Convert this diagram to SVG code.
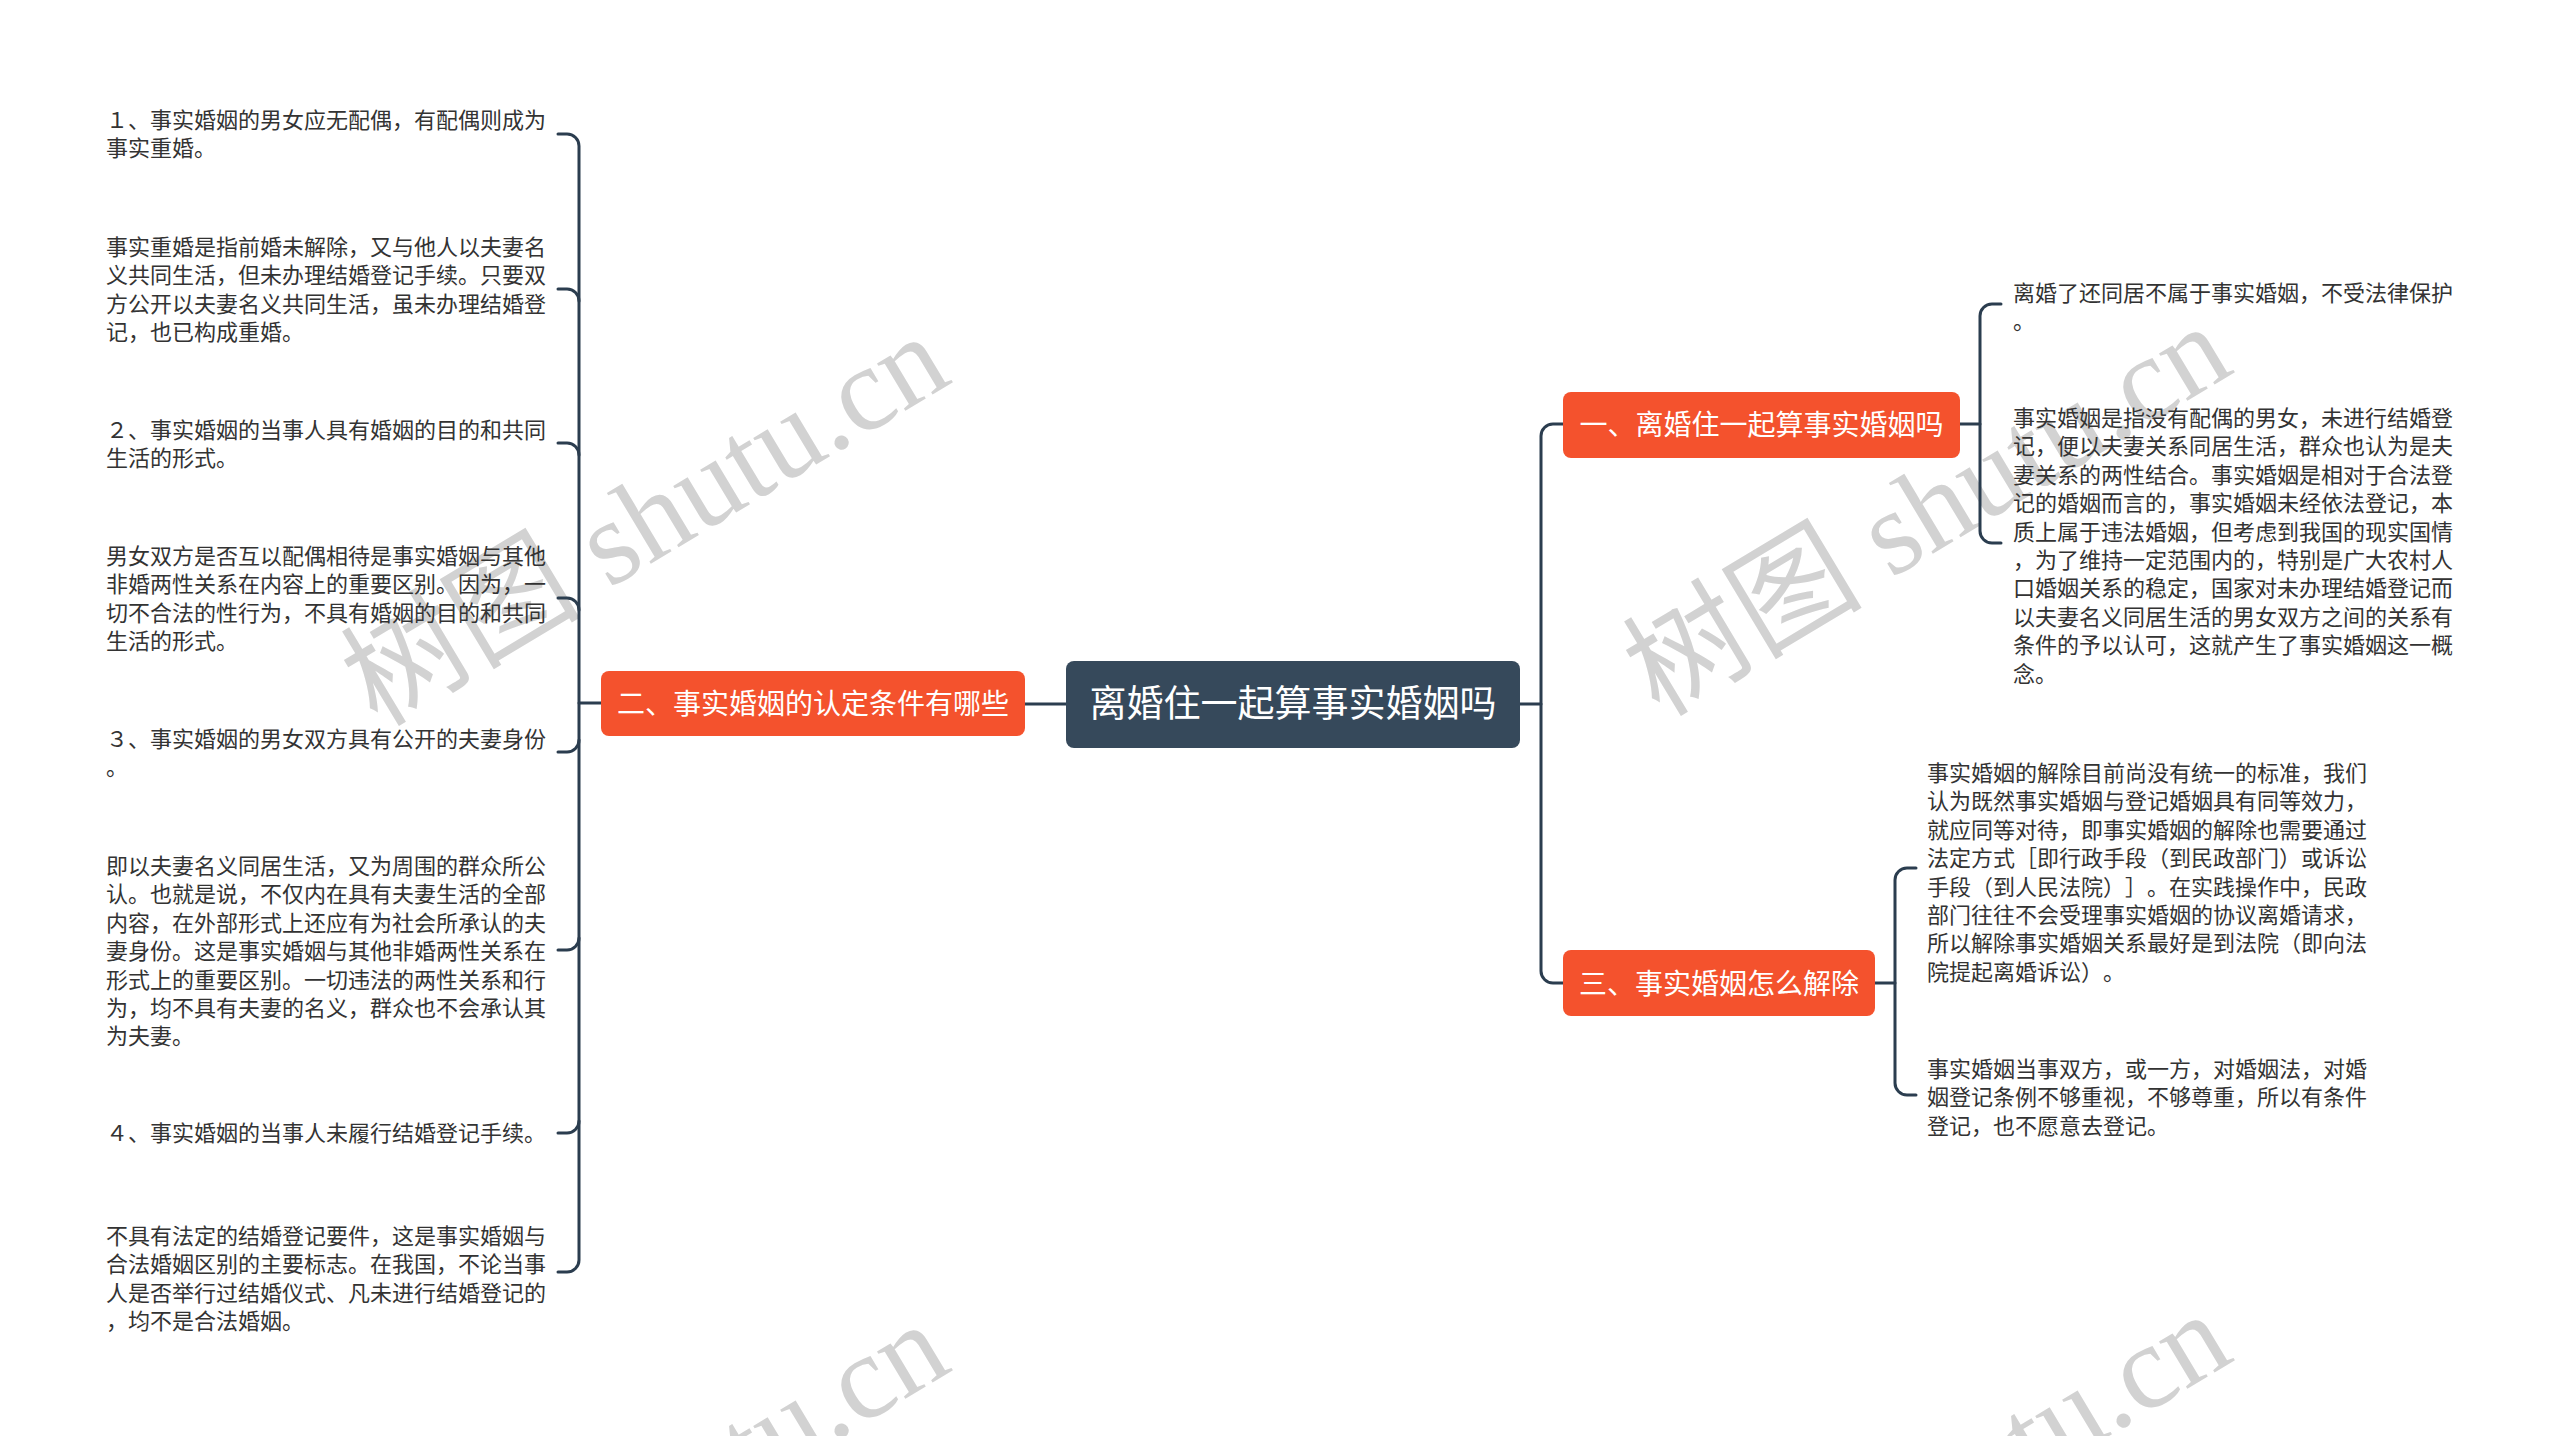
<svg xmlns="http://www.w3.org/2000/svg" width="2560" height="1436" viewBox="0 0 2560 1436">
<style>
.wm{font-family:"Liberation Serif","Noto Sans CJK SC",serif;font-size:120px;fill:#d2d2d2;}
.leaf{font-family:"Noto Sans CJK SC","Liberation Sans",sans-serif;font-size:22px;fill:#333333;text-spacing-trim:space-all;}
.br rect{fill:#F4522D;}
.br text{font-family:"Noto Sans CJK SC","Liberation Sans",sans-serif;font-size:28px;fill:#ffffff;text-anchor:middle;}
.root rect{fill:#36495B;}
.root text{font-family:"Noto Sans CJK SC","Liberation Sans",sans-serif;font-size:37px;fill:#ffffff;text-anchor:middle;}
.con path{fill:none;stroke:#2B3D4F;stroke-width:3;stroke-linecap:round;}
</style>
<rect width="2560" height="1436" fill="#ffffff"/>
<g id="watermarks">
<text class="wm" transform="translate(645,520) rotate(-31)" text-anchor="middle" dominant-baseline="central">树图 shutu.cn</text>
<text class="wm" transform="translate(1927,510) rotate(-31)" text-anchor="middle" dominant-baseline="central">树图 shutu.cn</text>
<text class="wm" transform="translate(645,1508) rotate(-31)" text-anchor="middle" dominant-baseline="central">树图 shutu.cn</text>
<text class="wm" transform="translate(1927,1498) rotate(-31)" text-anchor="middle" dominant-baseline="central">树图 shutu.cn</text>
</g>
<g id="connectors" class="con">
<path d="M1066,704 H1025"/>
<path d="M601,703 H579"/>
<path d="M558,134 H567 A12,12 0 0 1 579,146 V1260 A12,12 0 0 1 567,1272 H558"/>
<path d="M558,289 H567 A12,12 0 0 1 579,301"/>
<path d="M558,443 H567 A12,12 0 0 1 579,455"/>
<path d="M558,598 H567 A12,12 0 0 1 579,610"/>
<path d="M558,752 H567 A12,12 0 0 0 579,740"/>
<path d="M558,950 H567 A12,12 0 0 0 579,938"/>
<path d="M558,1133 H567 A12,12 0 0 0 579,1121"/>
<path d="M1520,704 H1541"/>
<path d="M1563,424 H1553 A12,12 0 0 0 1541,436 V971 A12,12 0 0 0 1553,983 H1563"/>
<path d="M1960,424 H1980"/>
<path d="M2001,304 H1992 A12,12 0 0 0 1980,316 V531 A12,12 0 0 0 1992,543 H2001"/>
<path d="M1875,983 H1895"/>
<path d="M1916,868 H1907 A12,12 0 0 0 1895,880 V1083 A12,12 0 0 0 1907,1095 H1916"/>
</g>
<g id="root" class="root">
<rect x="1066" y="661" width="454" height="87" rx="8"/>
<text x="1293" y="717">离婚住一起算事实婚姻吗</text>
</g>
<g id="branch1" class="br">
<rect x="1563" y="392" width="397" height="66" rx="8"/>
<text x="1761.5" y="435">一、离婚住一起算事实婚姻吗</text>
</g>
<g id="branch2" class="br">
<rect x="601" y="671" width="424" height="65" rx="8"/>
<text x="813" y="714">二、事实婚姻的认定条件有哪些</text>
</g>
<g id="branch3" class="br">
<rect x="1563" y="950" width="312" height="66" rx="8"/>
<text x="1719" y="994">三、事实婚姻怎么解除</text>
</g>
<g id="leaf-l1"><text class="leaf" x="106" y="128"><tspan x="106">１、事实婚姻的男女应无配偶，有配偶则成为</tspan><tspan x="106" dy="28.4">事实重婚。</tspan></text></g>
<g id="leaf-l2"><text class="leaf" x="106" y="255"><tspan x="106">事实重婚是指前婚未解除，又与他人以夫妻名</tspan><tspan x="106" dy="28.4">义共同生活，但未办理结婚登记手续。只要双</tspan><tspan x="106" dy="28.4">方公开以夫妻名义共同生活，虽未办理结婚登</tspan><tspan x="106" dy="28.4">记，也已构成重婚。</tspan></text></g>
<g id="leaf-l3"><text class="leaf" x="106" y="438"><tspan x="106">２、事实婚姻的当事人具有婚姻的目的和共同</tspan><tspan x="106" dy="28.4">生活的形式。</tspan></text></g>
<g id="leaf-l4"><text class="leaf" x="106" y="564"><tspan x="106">男女双方是否互以配偶相待是事实婚姻与其他</tspan><tspan x="106" dy="28.4">非婚两性关系在内容上的重要区别。因为，一</tspan><tspan x="106" dy="28.4">切不合法的性行为，不具有婚姻的目的和共同</tspan><tspan x="106" dy="28.4">生活的形式。</tspan></text></g>
<g id="leaf-l5"><text class="leaf" x="106" y="747"><tspan x="106">３、事实婚姻的男女双方具有公开的夫妻身份</tspan><tspan x="106" dy="28.4">。</tspan></text></g>
<g id="leaf-l6"><text class="leaf" x="106" y="874"><tspan x="106">即以夫妻名义同居生活，又为周围的群众所公</tspan><tspan x="106" dy="28.4">认。也就是说，不仅内在具有夫妻生活的全部</tspan><tspan x="106" dy="28.4">内容，在外部形式上还应有为社会所承认的夫</tspan><tspan x="106" dy="28.4">妻身份。这是事实婚姻与其他非婚两性关系在</tspan><tspan x="106" dy="28.4">形式上的重要区别。一切违法的两性关系和行</tspan><tspan x="106" dy="28.4">为，均不具有夫妻的名义，群众也不会承认其</tspan><tspan x="106" dy="28.4">为夫妻。</tspan></text></g>
<g id="leaf-l7"><text class="leaf" x="106" y="1141">４、事实婚姻的当事人未履行结婚登记手续。</text></g>
<g id="leaf-l8"><text class="leaf" x="106" y="1244"><tspan x="106">不具有法定的结婚登记要件，这是事实婚姻与</tspan><tspan x="106" dy="28.4">合法婚姻区别的主要标志。在我国，不论当事</tspan><tspan x="106" dy="28.4">人是否举行过结婚仪式、凡未进行结婚登记的</tspan><tspan x="106" dy="28.4">，均不是合法婚姻。</tspan></text></g>
<g id="leaf-r1"><text class="leaf" x="2013" y="301"><tspan x="2013">离婚了还同居不属于事实婚姻，不受法律保护</tspan><tspan x="2013" dy="28.4">。</tspan></text></g>
<g id="leaf-r2"><text class="leaf" x="2013" y="426"><tspan x="2013">事实婚姻是指没有配偶的男女，未进行结婚登</tspan><tspan x="2013" dy="28.4">记，便以夫妻关系同居生活，群众也认为是夫</tspan><tspan x="2013" dy="28.4">妻关系的两性结合。事实婚姻是相对于合法登</tspan><tspan x="2013" dy="28.4">记的婚姻而言的，事实婚姻未经依法登记，本</tspan><tspan x="2013" dy="28.4">质上属于违法婚姻，但考虑到我国的现实国情</tspan><tspan x="2013" dy="28.4">，为了维持一定范围内的，特别是广大农村人</tspan><tspan x="2013" dy="28.4">口婚姻关系的稳定，国家对未办理结婚登记而</tspan><tspan x="2013" dy="28.4">以夫妻名义同居生活的男女双方之间的关系有</tspan><tspan x="2013" dy="28.4">条件的予以认可，这就产生了事实婚姻这一概</tspan><tspan x="2013" dy="28.4">念。</tspan></text></g>
<g id="leaf-r3"><text class="leaf" x="1927" y="781"><tspan x="1927">事实婚姻的解除目前尚没有统一的标准，我们</tspan><tspan x="1927" dy="28.4">认为既然事实婚姻与登记婚姻具有同等效力，</tspan><tspan x="1927" dy="28.4">就应同等对待，即事实婚姻的解除也需要通过</tspan><tspan x="1927" dy="28.4">法定方式［即行政手段（到民政部门）或诉讼</tspan><tspan x="1927" dy="28.4">手段（到人民法院）］。在实践操作中，民政</tspan><tspan x="1927" dy="28.4">部门往往不会受理事实婚姻的协议离婚请求，</tspan><tspan x="1927" dy="28.4">所以解除事实婚姻关系最好是到法院（即向法</tspan><tspan x="1927" dy="28.4">院提起离婚诉讼）。</tspan></text></g>
<g id="leaf-r4"><text class="leaf" x="1927" y="1077"><tspan x="1927">事实婚姻当事双方，或一方，对婚姻法，对婚</tspan><tspan x="1927" dy="28.4">姻登记条例不够重视，不够尊重，所以有条件</tspan><tspan x="1927" dy="28.4">登记，也不愿意去登记。</tspan></text></g>
</svg>
